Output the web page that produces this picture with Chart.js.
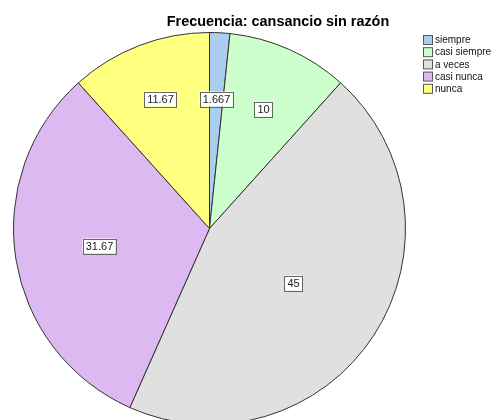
<!DOCTYPE html>
<html>
<head>
<meta charset="utf-8">
<script src="https://cdn.jsdelivr.net/npm/chart.js@4.4.1/dist/chart.umd.min.js"></script>
<style>
  html, body { margin: 0; padding: 0; background: #fff; overflow: hidden; }
  #wrap { width: 493px; height: 440px; position: relative; }
</style>
</head>
<body>
<div id="wrap"><canvas id="pieChart"></canvas></div>
<script>
// Frecuencia: cansancio sin razón — pie chart

const chartTitle = 'Frecuencia: cansancio sin razón';
const categories = ['siempre', 'casi siempre', 'a veces', 'casi nunca', 'nunca'];
const frequencies = [1.667, 10, 45, 31.67, 11.67];
const valueLabels = ['1.667', '10', '45', '31.67', '11.67'];
const sliceColors = ['#abcdef', '#ccffcc', '#e0e0e0', '#dcb9f1', '#ffff80'];

// how far out (as a fraction of the radius) each value box sits
const labelRadius = [0.66, 0.67, 0.51, 0.57, 0.71];

const FONT = '"Liberation Sans", Arial, sans-serif';

/**
 * Title, legend and value boxes drawn on top of the pie
 */
const decorPlugin = {
  id: 'decor',
  afterDraw(chart) {
    const ctx = chart.ctx;
    ctx.save();

    // title
    ctx.fillStyle = '#000';
    ctx.font = 'bold 14.4px ' + FONT;
    ctx.textAlign = 'center';
    ctx.textBaseline = 'alphabetic';
    ctx.fillText(chartTitle, 278, 26);

    // legend
    ctx.font = '10px ' + FONT;
    ctx.textAlign = 'left';
    ctx.textBaseline = 'middle';
    categories.forEach((name, i) => {
      const y = 40 + i * 12.2;
      ctx.fillStyle = sliceColors[i];
      ctx.fillRect(423.5, y - 4.5, 9, 9);
      ctx.strokeStyle = '#555';
      ctx.lineWidth = 1;
      ctx.strokeRect(423.5, y - 4.5, 9, 9);
      ctx.fillStyle = '#111';
      ctx.fillText(name, 435, y + 0.5);
    });

    // value boxes
    const arcs = chart.getDatasetMeta(0).data;
    ctx.font = '11px ' + FONT;
    ctx.textAlign = 'center';
    arcs.forEach((arc, i) => {
      const mid = (arc.startAngle + arc.endAngle) / 2;
      const r = arc.outerRadius * labelRadius[i];
      const x = Math.round(arc.x + Math.cos(mid) * r);
      const y = Math.round(arc.y + Math.sin(mid) * r);
      const text = valueLabels[i];
      const w = Math.ceil(ctx.measureText(text).width) + 5;
      const h = 15;
      ctx.fillStyle = '#fff';
      ctx.fillRect(x - w / 2, y - h / 2, w, h);
      ctx.strokeStyle = '#666';
      ctx.strokeRect(Math.round(x - w / 2) + 0.5, Math.round(y - h / 2) + 0.5, w, h);
      ctx.fillStyle = '#222';
      ctx.fillText(text, x + 0.5, y + 1);
    });

    ctx.restore();
  }
};

function initPieChart() {
  const ctx = document.getElementById('pieChart').getContext('2d');

  new Chart(ctx, {
    type: 'pie',
    data: {
      labels: categories,
      datasets: [{
        data: frequencies,
        backgroundColor: sliceColors,
        borderColor: '#333',
        borderWidth: 1,
        borderAlign: 'center'
      }]
    },
    options: {
      responsive: true,
      maintainAspectRatio: false,
      animation: false,
      rotation: 0,
      layout: {
        padding: { left: 13, right: 87, top: 32, bottom: 15 }
      },
      plugins: {
        legend: { display: false },
        title: { display: false },
        tooltip: { enabled: false }
      }
    },
    plugins: [decorPlugin]
  });
}

document.addEventListener('DOMContentLoaded', initPieChart);
</script>
</body>
</html>
